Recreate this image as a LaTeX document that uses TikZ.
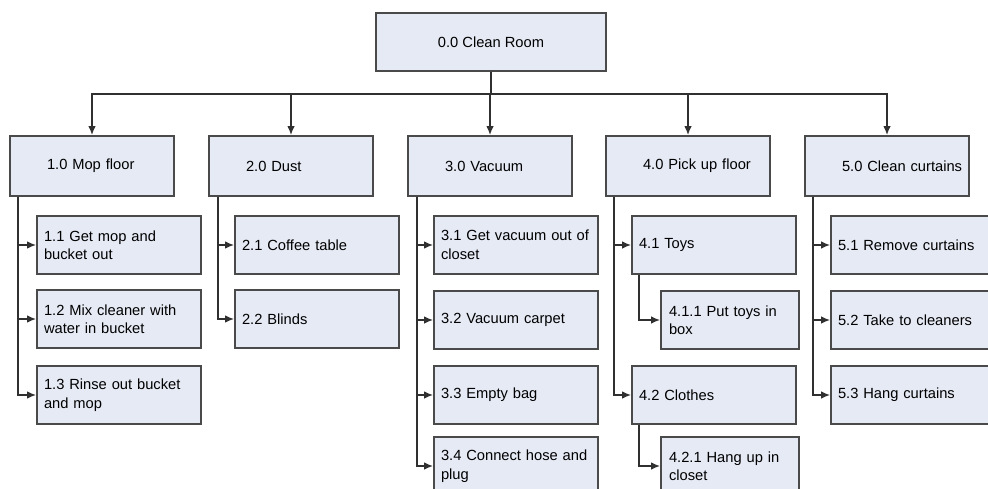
\documentclass[tikz,border=0pt]{standalone}
\usepackage{fontspec}
\setmainfont{Liberation Sans}
\usetikzlibrary{arrows.meta,positioning}
\definecolor{boxfill}{HTML}{E6EAF5}
\definecolor{boxline}{HTML}{4A4A4A}
\definecolor{wire}{HTML}{303030}

\begin{document}
\begin{tikzpicture}[x=1pt, y=-1pt,
  task/.style={rectangle, draw=boxline, line width=1.8pt, fill=boxfill, minimum height=58pt, inner ysep=0pt, font=\fontsize{14.7}{18.5}\selectfont},
  rootbox/.style={task, minimum width=230pt, align=center},
  phasebox/.style={task, minimum height=60pt, text width=158pt, inner xsep=3pt, align=left, execute at begin node=\hspace*{34pt}},
  subbox/.style={task, text width=150pt, inner xsep=7pt, align=left},
  leafbox/.style={task, text width=122pt, inner xsep=8pt, align=left},
  arr/.style={draw=wire, line width=1.5pt, -{Latex[length=9pt,width=7.5pt]}}
]
  \useasboundingbox (0,0) rectangle (988,489);
  \clip (0,0) rectangle (988,489);

  % top and phases
  \node[rootbox] (root) at (491,42) {0.0 Clean Room};
  \node[phasebox] (mop) at (92,166) {1.0 Mop floor};
  \node[phasebox] (dust) at (291,166) {2.0 Dust};
  \node[phasebox] (vac) at (490,166) {3.0 Vacuum};
  \node[phasebox] (pick) at (688,166) {4.0 Pick up floor};
  \node[phasebox] (curt) at (887,166) {5.0 Clean curtains};

  % tasks
  \node[subbox] (mop1) at (119,245) {1.1 Get mop and\\bucket out};
  \node[subbox] (mop2) at (119,319) {1.2 Mix cleaner with\\water in bucket};
  \node[subbox] (mop3) at (119,395) {1.3 Rinse out bucket\\and mop};
  \node[subbox] (dust1) at (317,245) {2.1 Coffee table};
  \node[subbox] (dust2) at (317,319) {2.2 Blinds};
  \node[subbox] (vac1) at (516,245) {3.1 Get vacuum out of\\closet};
  \node[subbox] (vac2) at (516,320) {3.2 Vacuum carpet};
  \node[subbox] (vac3) at (516,395) {3.3 Empty bag};
  \node[subbox] (vac4) at (516,466) {3.4 Connect hose and\\plug};
  \node[subbox] (pick1) at (714,245) {4.1 Toys};
  \node[leafbox] (pick11) at (730,320) {4.1.1 Put toys in\\box};
  \node[subbox] (pick2) at (714,395) {4.2 Clothes};
  \node[leafbox] (pick21) at (730,466) {4.2.1 Hang up in\\closet};
  \node[subbox] (curt1) at (913,245) {5.1 Remove curtains};
  \node[subbox] (curt2) at (913,320) {5.2 Take to cleaners};
  \node[subbox] (curt3) at (913,395) {5.3 Hang curtains};

  % bus
  \draw[arr] (root.south) -- ++(0,22) -| (mop.north);
  \draw[arr] (root.south) -- ++(0,22) -| (dust.north);
  \draw[arr] (root.south) -- ++(0,22) -| (vac.north);
  \draw[arr] (root.south) -- ++(0,22) -| (pick.north);
  \draw[arr] (root.south) -- ++(0,22) -| (curt.north);

  % branches
  \draw[arr] ([xshift=9pt]mop.south west) |- (mop1.west);
  \draw[arr] ([xshift=9pt]mop.south west) |- (mop2.west);
  \draw[arr] ([xshift=9pt]mop.south west) |- (mop3.west);
  \draw[arr] ([xshift=10pt]dust.south west) |- (dust1.west);
  \draw[arr] ([xshift=10pt]dust.south west) |- (dust2.west);
  \draw[arr] ([xshift=10pt]vac.south west) |- (vac1.west);
  \draw[arr] ([xshift=10pt]vac.south west) |- (vac2.west);
  \draw[arr] ([xshift=10pt]vac.south west) |- (vac3.west);
  \draw[arr] ([xshift=10pt]vac.south west) |- (vac4.west);
  \draw[arr] ([xshift=9pt]pick.south west) |- (pick1.west);
  \draw[arr] ([xshift=9pt]pick.south west) |- (pick2.west);
  \draw[arr] ([xshift=8pt]pick1.south west) |- (pick11.west);
  \draw[arr] ([xshift=8pt]pick2.south west) |- (pick21.west);
  \draw[arr] ([xshift=9pt]curt.south west) |- (curt1.west);
  \draw[arr] ([xshift=9pt]curt.south west) |- (curt2.west);
  \draw[arr] ([xshift=9pt]curt.south west) |- (curt3.west);
\end{tikzpicture}
\end{document}
